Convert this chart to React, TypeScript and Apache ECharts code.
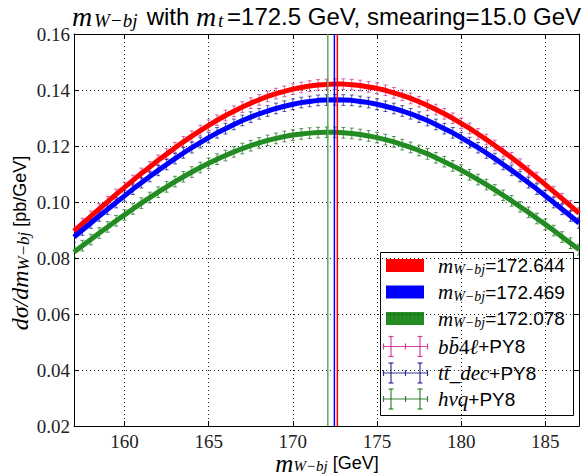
import React, { useEffect, useRef } from "react";
import * as echarts from "echarts";

// bin centres of m_{W-bj} [GeV]
const MASS_BINS = [
  157, 157.5, 158, 158.5, 159, 159.5, 160, 160.5, 161, 161.5, 162, 162.5, 163, 163.5, 164, 164.5,
  165, 165.5, 166, 166.5, 167, 167.5, 168, 168.5, 169, 169.5, 170, 170.5, 171, 171.5, 172, 172.5,
  173, 173.5, 174, 174.5, 175, 175.5, 176, 176.5, 177, 177.5, 178, 178.5, 179, 179.5, 180, 180.5,
  181, 181.5, 182, 182.5, 183, 183.5, 184, 184.5, 185, 185.5, 186, 186.5, 187,
];

// dσ/dm_{W-bj} [pb/GeV]
const BB4L_PY8 = [
  0.0896, 0.0923, 0.0949, 0.0975, 0.1001, 0.1027, 0.1052, 0.1077, 0.1102, 0.1125, 0.1149, 0.1171,
  0.1194, 0.1215, 0.1235, 0.1255, 0.1274, 0.1292, 0.1309, 0.1324, 0.1339, 0.1353, 0.1365, 0.1377,
  0.1387, 0.1395, 0.1403, 0.1409, 0.1414, 0.1418, 0.142, 0.1421, 0.1421, 0.1419, 0.1416, 0.1411,
  0.1406, 0.1399, 0.139, 0.1381, 0.137, 0.1358, 0.1345, 0.133, 0.1315, 0.1299, 0.1281, 0.1263,
  0.1243, 0.1223, 0.1202, 0.118, 0.1158, 0.1135, 0.1111, 0.1087, 0.1062, 0.1037, 0.1012, 0.0986,
  0.096,
];
const TTDEC_PY8 = [
  0.0875, 0.09, 0.0925, 0.095, 0.0974, 0.0998, 0.1022, 0.1046, 0.1069, 0.1091, 0.1113, 0.1134,
  0.1155, 0.1175, 0.1194, 0.1212, 0.123, 0.1247, 0.1262, 0.1277, 0.1291, 0.1303, 0.1315, 0.1325,
  0.1334, 0.1342, 0.1349, 0.1355, 0.1359, 0.1363, 0.1364, 0.1365, 0.1364, 0.1363, 0.1359, 0.1355,
  0.1349, 0.1342, 0.1334, 0.1325, 0.1315, 0.1303, 0.1291, 0.1277, 0.1262, 0.1247, 0.123, 0.1212,
  0.1194, 0.1175, 0.1155, 0.1134, 0.1113, 0.1091, 0.1069, 0.1046, 0.1022, 0.0998, 0.0974, 0.095,
  0.0925,
];
const HVQ_PY8 = [
  0.0821, 0.0844, 0.0866, 0.0889, 0.0911, 0.0933, 0.0954, 0.0975, 0.0996, 0.1016, 0.1035, 0.1054,
  0.1073, 0.109, 0.1107, 0.1123, 0.1138, 0.1153, 0.1166, 0.1179, 0.1191, 0.1201, 0.1211, 0.122,
  0.1227, 0.1234, 0.1239, 0.1243, 0.1246, 0.1248, 0.1249, 0.1249, 0.1247, 0.1245, 0.1241, 0.1236,
  0.123, 0.1223, 0.1215, 0.1205, 0.1195, 0.1184, 0.1172, 0.1158, 0.1144, 0.1129, 0.1114, 0.1097,
  0.108, 0.1062, 0.1043, 0.1024, 0.1004, 0.0983, 0.0963, 0.0941, 0.092, 0.0898, 0.0875, 0.0853,
  0.083,
];
const STAT_ERRORS = [0.0019, 0.0019, 0.0019];

// fitted peak positions [GeV]
const FIT_MASSES = [172.644, 172.469, 172.078];
const FIT_LABELS = ["172.644", "172.469", "172.078"];

const SERIF = "Liberation Serif";
const SANS = "Liberation Sans";

const LINE_COLORS = ["#ff0000", "#0000ff", "#228b22"];
const ERR_COLORS = ["#c71585", "#000080", "#006400"];
const VLINE_COLORS = ["#ff0000", "#0000ff", "#5fa85f"];

function richSet(mi: number, sub: number, sans: number, lh: number, extra: any = {}) {
  return {
    mi: { fontFamily: SERIF, fontStyle: "italic", fontSize: mi, lineHeight: lh, verticalAlign: "middle", fill: "#000" },
    rm: { fontFamily: SERIF, fontSize: mi, lineHeight: lh, verticalAlign: "middle", fill: "#000" },
    sub: { fontFamily: SERIF, fontStyle: "italic", fontSize: sub, lineHeight: sub, verticalAlign: "bottom", fill: "#000" },
    sans: { fontFamily: SANS, fontSize: sans, lineHeight: lh, verticalAlign: "middle", fill: "#000" },
    ...extra,
  };
}

export default function App() {
  const ref = useRef<HTMLDivElement>(null);

  useEffect(() => {
    const chart = echarts.init(ref.current!, null, { renderer: "svg" });

    const curves = [BB4L_PY8, TTDEC_PY8, HVQ_PY8];

    const errSeries = curves.map((vals, k) => ({
      type: "custom",
      z: 2,
      clip: true,
      encode: { x: 0, y: 1 },
      data: MASS_BINS.map((m, i) => [m, vals[i], STAT_ERRORS[k]]),
      renderItem: (params: any, api: any) => {
        const x = api.value(0);
        const y = api.value(1);
        const e = api.value(2);
        const a = api.coord([x, y + e]);
        const b = api.coord([x, y - e]);
        const c = 2;
        const st = { stroke: ERR_COLORS[k], lineWidth: 1, opacity: 0.65 };
        return {
          type: "group",
          children: [
            { type: "line", shape: { x1: a[0], y1: a[1], x2: b[0], y2: b[1] }, style: st },
            { type: "line", shape: { x1: a[0] - c, y1: a[1], x2: a[0] + c, y2: a[1] }, style: st },
            { type: "line", shape: { x1: b[0] - c, y1: b[1], x2: b[0] + c, y2: b[1] }, style: st },
          ],
        };
      },
    }));

    const lineSeries = curves.map((vals, k) => ({
      type: "line",
      z: 3,
      showSymbol: false,
      symbol: "none",
      lineStyle: { color: LINE_COLORS[k], width: 5, join: "round" },
      data: MASS_BINS.map((m, i) => [m, vals[i]]),
    }));

    const vlineSeries = {
      type: "custom",
      z: 5,
      encode: { x: 0, y: 1 },
      data: FIT_MASSES.map((m) => [m, 0.16]),
      renderItem: (params: any, api: any) => {
        const x = api.value(0);
        const a = api.coord([x, 0.16]);
        const b = api.coord([x, 0.02]);
        return {
          type: "line",
          shape: { x1: a[0], y1: a[1], x2: b[0], y2: b[1] },
          style: { stroke: VLINE_COLORS[params.dataIndex], lineWidth: 1.5 },
        };
      },
    };

    // legend
    const rowY = [265.5, 292, 318.5, 346.5, 373, 399];
    const legendRich = richSet(21, 14, 19, 22);
    const legendChildren: any[] = [
      {
        type: "rect",
        shape: { x: 380.5, y: 252.5, width: 193, height: 163 },
        style: { fill: "#fff", stroke: "#000", lineWidth: 1 },
      },
    ];
    for (let i = 0; i < 3; i++) {
      legendChildren.push({
        type: "rect",
        shape: { x: 386, y: rowY[i] - 6.5, width: 38, height: 13 },
        style: { fill: LINE_COLORS[i] },
      });
      legendChildren.push({
        type: "text",
        x: 438,
        y: rowY[i],
        style: {
          text: `{mi|m}{sub|W−bj}{sans|=${FIT_LABELS[i]}}`,
          rich: legendRich,
          align: "left",
          verticalAlign: "middle",
        },
      });
    }
    const errTexts = [
      "{mi|bb\u0304}{rm|4}{mi|\u2113}{sans|+PY8}",
      "{mi|tt\u0304}{rm|_}{mi|dec}{sans|+PY8}",
      "{mi|hvq}{sans|+PY8}",
    ];
    for (let i = 0; i < 3; i++) {
      const y = rowY[i + 3];
      const st = { stroke: ERR_COLORS[i], lineWidth: 1.2, opacity: 0.8 };
      legendChildren.push({ type: "line", shape: { x1: 383.5, y1: y, x2: 427.5, y2: y }, style: st });
      for (const sx of [383.5, 405.5, 427.5]) {
        legendChildren.push({ type: "line", shape: { x1: sx, y1: y - 3, x2: sx, y2: y + 3 }, style: st });
      }
      for (const bx of [391, 420]) {
        legendChildren.push({ type: "line", shape: { x1: bx, y1: y - 10, x2: bx, y2: y + 10 }, style: st });
        legendChildren.push({ type: "line", shape: { x1: bx - 2.5, y1: y - 10, x2: bx + 2.5, y2: y - 10 }, style: st });
        legendChildren.push({ type: "line", shape: { x1: bx - 2.5, y1: y + 10, x2: bx + 2.5, y2: y + 10 }, style: st });
      }
      legendChildren.push({
        type: "text",
        x: 438,
        y,
        style: {
          text: errTexts[i],
          rich: legendRich,
          align: "left",
          verticalAlign: "middle",
        },
      });
    }

    const gridLine = { show: true, lineStyle: { color: "#222", width: 1, type: [1, 3] } };
    const axisLine = { show: true, onZero: false, lineStyle: { color: "#000", width: 1 } };
    const axisTick = { show: true, inside: true, length: 5, lineStyle: { color: "#000", width: 1 } };

    const titleRich = richSet(28, 19, 24, 28, {
      tm: { fontFamily: SERIF, fontStyle: "italic", fontSize: 28, lineHeight: 28, verticalAlign: "middle", fill: "#000", width: 22 },
      tsub: { fontFamily: SERIF, fontStyle: "italic", fontSize: 19, lineHeight: 19, verticalAlign: "bottom", fill: "#000", width: 46 },
      tsubt: { fontFamily: SERIF, fontStyle: "italic", fontSize: 19, lineHeight: 19, verticalAlign: "bottom", fill: "#000", width: 9 },
    });

    const option: any = {
      animation: false,
      backgroundColor: "#fff",
      textStyle: { fontFamily: SERIF },
      grid: { left: 74, top: 34, width: 505, height: 392, containLabel: false },
      xAxis: [
        {
          type: "value",
          min: 157,
          max: 187,
          splitNumber: 6,
          position: "bottom",
          axisLine,
          axisTick,
          axisLabel: {
            fontFamily: SERIF,
            fontSize: 19,
            color: "#222",
            margin: 6,
            showMinLabel: false,
            showMaxLabel: false,
          },
          splitLine: gridLine,
        },
        {
          type: "value",
          min: 157,
          max: 187,
          splitNumber: 6,
          position: "top",
          axisLine,
          axisTick,
          axisLabel: { show: false },
          splitLine: { show: false },
        },
      ],
      yAxis: [
        {
          type: "value",
          min: 0.02,
          max: 0.16,
          interval: 0.02,
          position: "left",
          axisLine,
          axisTick,
          axisLabel: {
            fontFamily: SERIF,
            fontSize: 19,
            color: "#222",
            margin: 4,
            formatter: (v: number) => v.toFixed(2),
          },
          splitLine: gridLine,
        },
        {
          type: "value",
          min: 0.02,
          max: 0.16,
          interval: 0.02,
          position: "right",
          axisLine,
          axisTick,
          axisLabel: { show: false },
          splitLine: { show: false },
        },
      ],
      series: [...errSeries, ...lineSeries, vlineSeries],
      graphic: [
        {
          type: "text",
          x: 72,
          y: 16,
          style: {
            text: "{tm|m}{tsub|W−bj}{sans| with }{tm|m}{tsubt|t}{sans|=172.5 GeV, smearing=15.0 GeV}",
            rich: titleRich,
            align: "left",
            verticalAlign: "middle",
          },
        },
        {
          type: "text",
          x: 327,
          y: 463,
          style: {
            text: "{mi|m}{sub|W−bj}{sans| [GeV]}",
            rich: richSet(25, 15, 18, 21),
            align: "center",
            verticalAlign: "middle",
          },
        },
        {
          type: "text",
          x: 20,
          y: 243,
          rotation: Math.PI / 2,
          style: {
            text: "{mi|dσ/dm}{sub|W−bj}{sans| [pb/GeV]}",
            rich: richSet(24, 17, 18, 24),
            align: "center",
            verticalAlign: "middle",
          },
        },
        { type: "group", z: 100, children: legendChildren },
      ],
    };

    chart.setOption(option);
    return () => chart.dispose();
  }, []);

  return (
    <div
      ref={ref}
      style={{ position: "fixed", left: 0, top: 0, width: 584, height: 474, background: "#fff" }}
    />
  );
}
